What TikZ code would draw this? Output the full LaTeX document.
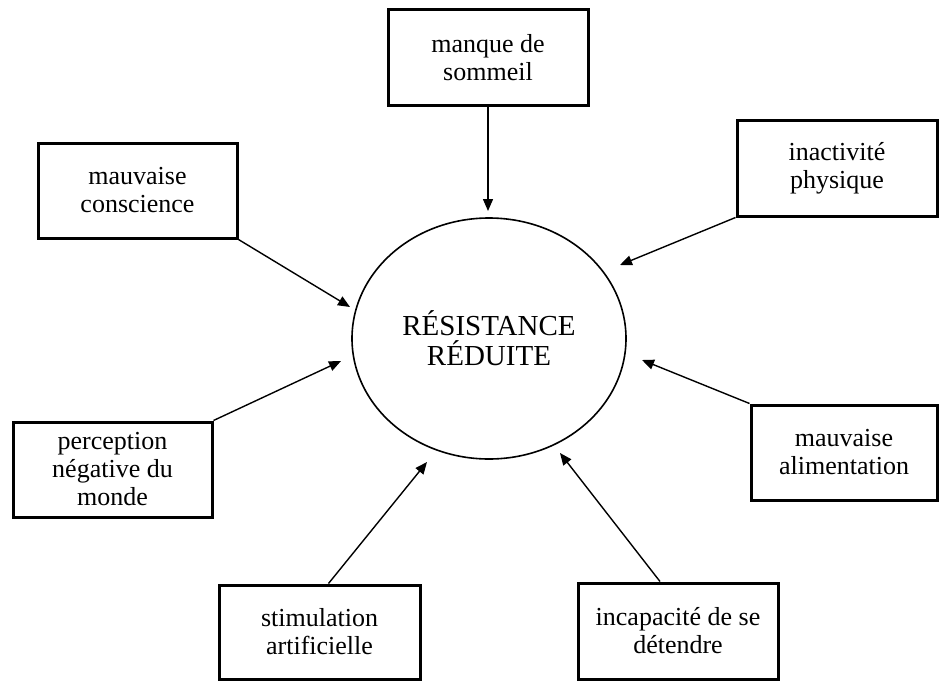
\documentclass[tikz,border=0pt]{standalone}
\usepackage{fontspec}
\setmainfont{Liberation Serif}
\usetikzlibrary{arrows.meta,calc,shapes.geometric}
\begin{document}
\begin{tikzpicture}[x=1pt,y=-1pt,
  box/.style={draw=black,line width=3pt,fill=white,minimum width=200pt,minimum height=96pt,inner sep=0pt,align=center,
    font=\fontsize{26}{28}\selectfont},
  arr/.style={-{Triangle[length=12pt,width=10pt]},line width=1.4pt}]
\useasboundingbox (0,0) rectangle (940,681);
\fill[white] (0,0) rectangle (940,681);
\node[draw=black,line width=1.6pt,fill=white,ellipse,minimum width=274pt,minimum height=241pt,inner sep=0pt,align=center,
  font=\fontsize{29}{30}\selectfont] (c) at (489,338.5) {RÉSISTANCE\\RÉDUITE};
\node[box] (b1) at (488,57.5) {manque de\\sommeil};
\node[box,minimum width=199pt,minimum height=95pt] (b2) at (137.5,190.5) {mauvaise\\conscience};
\node[box] (b3) at (837,168) {inactivité\\physique};
\node[box,minimum width=199pt,minimum height=95pt] (b4) at (112.5,469.5) {perception\\négative du\\monde};
\node[box,minimum width=186pt,minimum height=95pt] (b5) at (844,452.5) {mauvaise\\alimentation};
\node[box,minimum width=201pt,minimum height=94pt] (b6) at (319.5,632) {stimulation\\artificielle};
\node[box,minimum width=200pt,minimum height=96pt] (b7) at (678,631) {incapacité de se\\détendre};
\coordinate (t1) at (488,211);
\coordinate (t2) at (350,307);
\coordinate (t3) at (620,265);
\coordinate (t4) at (341,361);
\coordinate (t5) at (642,360);
\coordinate (t6) at (427,462);
\coordinate (t7) at (560,453);
\draw[arr] (b1.south) -- (t1);
\draw[arr] (b2.south east) -- (t2);
\draw[arr] (b3.south west) -- (t3);
\draw[arr] (b4.north east) -- (t4);
\draw[arr] (b5.north west) -- (t5);
\draw[arr] ($(b6.north)+(9,0)$) -- (t6);
\draw[arr] ($(b7.north)+(-18,0)$) -- (t7);
\end{tikzpicture}
\end{document}
